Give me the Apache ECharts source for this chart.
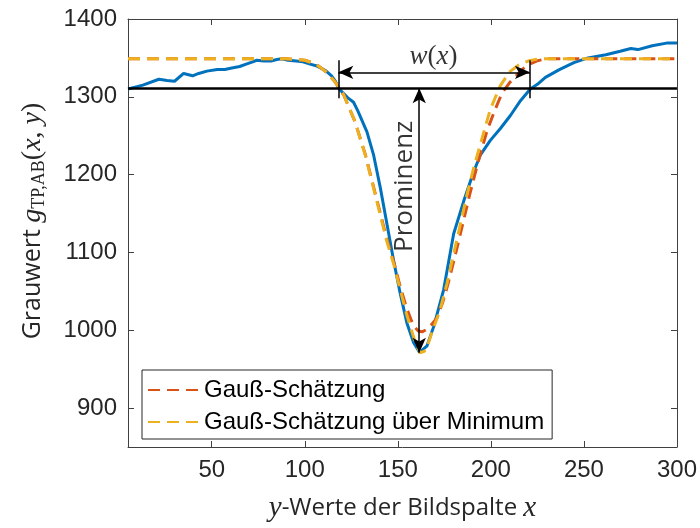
<!DOCTYPE html>
<html>
<head>
<meta charset="utf-8">
<script src="https://cdn.jsdelivr.net/npm/echarts@6/dist/echarts.min.js"></script>
<style>html,body{margin:0;padding:0;background:#fff}#c{width:700px;height:528px}</style>
</head>
<body>
<div id="c"></div>
<script>
// ---- data ----
const blueX = [5,13,21.6,26,30,34.9,39.7,43,47.4,53,57,60.8,65,68.5,72,74.2,78,81.9,85,87.6,91,95.3,99,102.9,106,108.7,111.5,114.4,116.5,118.2,120.5,123,126.2,128.5,133.4,137,140.6,144.2,147.7,151.3,154.9,158.5,161.7,165.7,169.3,174.6,180,185.4,190.8,194.3,199.7,205,210.5,215.9,221.2,225,229.3,236.8,244.6,252.2,261.8,269.5,275.2,279,286.7,294.4,300];
const blueY = [1310,1315,1322.6,1321,1320,1330,1327,1330,1333,1335,1335,1337,1339,1342,1345,1347,1346,1346,1348,1349,1347,1346,1345,1342,1340,1337,1333,1327,1320,1311,1305,1299,1293,1282,1255,1225,1183,1136,1090,1047,1009,984,971.5,980,1005,1052,1124,1166,1204,1225,1244,1259,1276,1295,1310,1316,1325,1335,1344,1350,1354,1358.5,1362,1360.7,1365.7,1369,1369];

const redX = [5,90,100,106,111,116,121,127,132.5,138.7,144,148,151.3,154.5,157,159,161,163,165.5,168,171,174,177,181,185,189,193,197.9,202,206,210,214.8,219,224.5,230,300];
const redY = [1349,1349,1347,1342,1333,1320,1302,1268,1226,1168,1118,1086,1056,1030,1014,1004,999,998,1001,1007,1016,1035,1060,1098,1138,1178,1215,1256,1282,1305,1318,1330,1340,1346,1349,1349];

const orangeX = [5,90,100,106,111,116,120.8,127,132.5,138.7,144,148,151.3,155,159.4,162,165,168.3,172.8,176.4,180,183.6,187.2,190.8,195.3,199.7,205,210,215,220,226,300];
const orangeY = [1349,1349,1347,1342,1333,1320,1303,1268,1225,1166,1115,1083,1052,1018,984,971,974,997,1027,1060,1098,1136,1175,1209,1247,1284,1314,1332,1341,1346,1349,1349];

const xTicks = [50,100,150,200,250,300];
const yTicks = [900,1000,1100,1200,1300,1400];

// annotations
const thresholdY = 1311;
const widthX = [118, 221];
const widthArrowY = 1331.5;
const widthBar = [1298, 1347];
const promX = 161.5;
const promRange = [1311, 971];
const wLabelPos = [169.2, 1351];
const promLabelPos = [153.5, 1185];

const seriesNames = ['Gauß-Schätzung', 'Gauß-Schätzung über Minimum'];

const zip = (a, b) => a.map((v, i) => [v, b[i]]);
const mathFont = 'Liberation Serif';
const tickFont = 'Liberation Sans';
const axisColor = '#404040';

const chart = echarts.init(document.getElementById('c'), null, {renderer: 'canvas'});

const baseX = {
  type: 'value', min: 5, max: 300,
  axisLine: {show: true, onZero: false, lineStyle: {color: axisColor, width: 1}},
  axisTick: {show: true, inside: true, length: 6, customValues: xTicks, lineStyle: {color: axisColor}},
  splitLine: {show: false}
};
const baseY = {
  type: 'value', min: 850, max: 1400,
  axisLine: {show: true, onZero: false, lineStyle: {color: axisColor, width: 1}},
  axisTick: {show: true, inside: true, length: 6, customValues: yTicks, lineStyle: {color: axisColor}},
  splitLine: {show: false}
};

const option = {
  animation: false,
  backgroundColor: '#fff',
  grid: {left: 128, top: 19, right: 23, bottom: 76, containLabel: false},
  xAxis: [
    Object.assign({}, baseX, {
      position: 'bottom',
      axisLabel: {show: true, customValues: xTicks, margin: 11, fontSize: 24, fontFamily: tickFont, color: '#262626',
        formatter: v => String(v)},
      name: '{i|y}{n|-Werte der Bildspalte }{i|x}',
      nameLocation: 'middle', nameGap: 47,
      nameTextStyle: {
        rich: {
          i: {fontFamily: mathFont, fontStyle: 'italic', fontSize: 29, color: '#262626'},
          n: {fontFamily: 'Open Sans', fontSize: 24, color: '#262626'}
        }
      }
    }),
    Object.assign({}, baseX, {position: 'top', axisLabel: {show: false}})
  ],
  yAxis: [
    Object.assign({}, baseY, {
      position: 'left',
      axisLabel: {show: true, customValues: yTicks, margin: 11, fontSize: 24, fontFamily: tickFont, color: '#262626',
        formatter: v => String(v)},
      name: '{n|Grauwert }{i|g}{s|TP,AB}{r|(}{i|x}{r|, }{i|y}{r|)}',
      nameLocation: 'middle', nameGap: 80, nameRotate: 90,
      nameTextStyle: {
        padding: [0, 0, 0, 24],
        rich: {
          n: {fontFamily: 'Open Sans', fontSize: 25, color: '#262626'},
          i: {fontFamily: mathFont, fontStyle: 'italic', fontSize: 28, color: '#262626'},
          r: {fontFamily: mathFont, fontSize: 28, color: '#262626'},
          s: {fontFamily: mathFont, fontSize: 18, color: '#262626', verticalAlign: 'bottom', padding: [12, 0, 0, 0]}
        }
      }
    }),
    Object.assign({}, baseY, {position: 'right', axisLabel: {show: false}})
  ],
  legend: {
    show: true,
    data: seriesNames,
    orient: 'vertical',
    left: 142, top: 370,
    selectedMode: false,
    backgroundColor: '#fff',
    borderColor: '#262626', borderWidth: 1,
    padding: [6, 8, 3, 5],
    itemWidth: 51, itemHeight: 14, itemGap: 4,
    itemStyle: {opacity: 0, borderWidth: 0},
    textStyle: {fontSize: 24, fontFamily: tickFont, color: '#000', lineHeight: 28}
  },
  series: [
    {
      name: 'Messung', type: 'line', data: zip(blueX, blueY),
      showSymbol: false, symbol: 'none', smooth: false,
      lineStyle: {color: '#0072BD', width: 3}, itemStyle: {color: '#0072BD'},
      z: 2, silent: true
    },
    {
      name: seriesNames[0], type: 'line', data: zip(redX, redY),
      showSymbol: false, symbol: 'none',
      lineStyle: {color: '#D95319', width: 3, type: [12, 7]}, itemStyle: {color: '#D95319'},
      z: 3, silent: true
    },
    {
      name: seriesNames[1], type: 'line', data: zip(orangeX, orangeY),
      showSymbol: false, symbol: 'none',
      lineStyle: {color: '#EDB120', width: 3, type: [12, 7]}, itemStyle: {color: '#EDB120'},
      z: 4, silent: true
    },
    {
      name: 'annot', type: 'line', data: [], silent: true, z: 5,
      markLine: {
        silent: true, animation: false,
        label: {show: false},
        emphasis: {disabled: true},
        data: [
          [{coord: [5, thresholdY], symbol: 'none', lineStyle: {width: 2.5, color: '#000', type: 'solid'}},
           {coord: [300, thresholdY], symbol: 'none'}],
          [{coord: [widthX[0], widthBar[0]], symbol: 'none', lineStyle: {width: 1.5, color: '#000', type: 'solid'}},
           {coord: [widthX[0], widthBar[1]], symbol: 'none'}],
          [{coord: [widthX[1], widthBar[0]], symbol: 'none', lineStyle: {width: 1.5, color: '#000', type: 'solid'}},
           {coord: [widthX[1], widthBar[1]], symbol: 'none'}],
          [{coord: [widthX[0], widthArrowY], symbol: 'arrow', symbolSize: [10, 15], lineStyle: {width: 1.5, color: '#000', type: 'solid'}},
           {coord: [widthX[1], widthArrowY], symbol: 'arrow', symbolSize: [10, 15]}],
          [{coord: [promX, promRange[0]], symbol: 'arrow', symbolSize: [10, 15], lineStyle: {width: 1.5, color: '#000', type: 'solid'}},
           {coord: [promX, promRange[1]], symbol: 'arrow', symbolSize: [10, 15]}]
        ],
        itemStyle: {color: '#000'}
      }
    },
    {
      name: 'labels', type: 'scatter', silent: true, z: 6,
      symbol: 'circle', symbolSize: 0, itemStyle: {color: 'rgba(0,0,0,0)'},
      labelLayout: {hideOverlap: false},
      data: [
        {value: wLabelPos, label: {show: true, position: 'inside', formatter: '{i|w}{r|(}{i|x}{r|)}',
          rich: {i: {fontFamily: mathFont, fontStyle: 'italic', fontSize: 27, color: '#000'}, r: {fontFamily: mathFont, fontSize: 27, color: '#000'}}}},
        {value: promLabelPos, label: {show: true, position: 'inside', rotate: 90, formatter: 'Prominenz',
          fontFamily: 'Open Sans', fontSize: 26, color: '#000', textBorderWidth: 0}}
      ]
    }
  ]
};
chart.setOption(option);
</script>
</body>
</html>
